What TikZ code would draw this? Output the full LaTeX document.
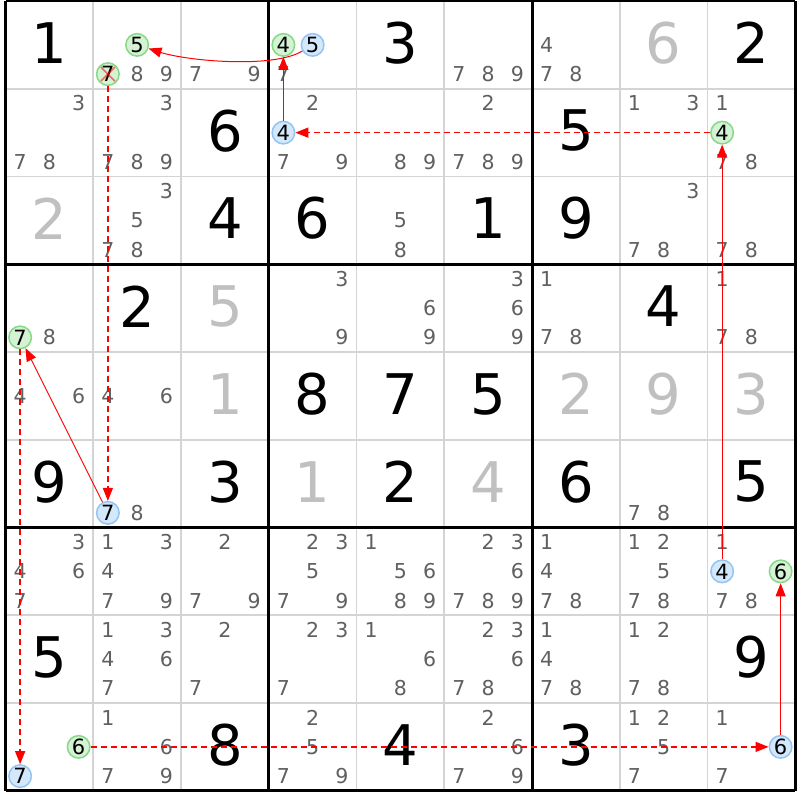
\documentclass[tikz,border=0pt]{standalone}
\usepackage{fontspec}
\setmainfont{DejaVu Sans}
\usetikzlibrary{arrows.meta}
\definecolor{candgray}{HTML}{606060}
\definecolor{solvedgray}{HTML}{C0C0C0}
\definecolor{gridgray}{HTML}{D4D4D4}
\definecolor{gfill}{HTML}{D5F2D5}
\definecolor{gdraw}{HTML}{86D986}
\definecolor{bfill}{HTML}{D4E8FC}
\definecolor{bdraw}{HTML}{94C4F2}
\definecolor{arrowred}{HTML}{FF0000}
\tikzset{
  cand/.style={text=candgray, font=\fontsize{20.5}{20.5}\selectfont, inner sep=0pt},
  bigdigit/.style={text=black, font=\fontsize{56}{56}\selectfont, inner sep=0pt},
  solved/.style={bigdigit, text=solvedgray},
  circ/.style={circle, minimum size=22.5pt, inner sep=0pt, line width=1.5pt, text=black, font=\fontsize{21}{21}\selectfont},
  gcirc/.style={circ, draw=gdraw, fill=gfill},
  bcirc/.style={circ, draw=bdraw, fill=bfill},
  thingrid/.style={draw=gridgray, line width=1.6pt},
  thickgrid/.style={draw=black, line width=3pt},
  arr/.style={draw=arrowred, line width=1pt, -{Triangle[length=13pt,width=10pt]}},
  darr/.style={arr, line width=1.3pt, dash pattern=on 6pt off 4pt},
  xmark/.style={draw=red, opacity=0.55, line width=1.6pt}
}
\begin{document}
\begin{tikzpicture}[x=1pt,y=-1pt]
\useasboundingbox (0,0) rectangle (800,800);
\fill[white] (0,0) rectangle (800,800);
% thin grid lines
\foreach \i in {1,2,4,5,7,8}{
  \draw[thingrid] ({5.5+\i*87.75},1) -- ({5.5+\i*87.75},790.75);
  \draw[thingrid] (5.5,{1+\i*87.75}) -- (795.25,{1+\i*87.75});
}
% given digits
\foreach \r/\c/\d in {1/1/1,1/5/3,1/9/2,2/3/6,2/7/5,3/3/4,3/4/6,3/6/1,3/7/9,4/2/2,4/8/4,5/4/8,5/5/7,5/6/5,6/1/9,6/3/3,6/5/2,6/7/6,6/9/5,8/1/5,8/9/9,9/3/8,9/5/4,9/7/3}{
  \node[bigdigit] (v\r\c) at ({5.5+(\c-0.5)*87.75},{1+(\r-1)*87.75+42}) {\d};
}
% solved digits
\foreach \r/\c/\d in {1/8/6,3/1/2,4/3/5,5/3/1,5/7/2,5/8/9,5/9/3,6/4/1,6/6/4}{
  \node[solved] (v\r\c) at ({5.5+(\c-0.5)*87.75},{1+(\r-1)*87.75+42}) {\d};
}
% candidates
\foreach \r/\c/\ds in {1/2/{8,9},1/3/{7,9},1/4/{7},1/6/{7,8,9},1/7/{4,7,8},
  2/1/{3,7,8},2/2/{3,7,8,9},2/4/{2,7,9},2/5/{8,9},2/6/{2,7,8,9},2/8/{1,3},2/9/{1,7,8},
  3/2/{3,5,7,8},3/5/{5,8},3/8/{3,7,8},3/9/{7,8},
  4/1/{8},4/4/{3,9},4/5/{6,9},4/6/{3,6,9},4/7/{1,7,8},4/9/{1,7,8},
  5/1/{4,6},5/2/{4,6},6/2/{8},6/8/{7,8},
  7/1/{3,4,6,7},7/2/{1,3,4,7,9},7/3/{2,7,9},7/4/{2,3,5,7,9},7/5/{1,5,6,8,9},7/6/{2,3,6,7,8,9},7/7/{1,4,7,8},7/8/{1,2,5,7,8},7/9/{1,7,8},
  8/2/{1,3,4,6,7},8/3/{2,7},8/4/{2,3,7},8/5/{1,6,8},8/6/{2,3,6,7,8},8/7/{1,4,7,8},8/8/{1,2,7,8},
  9/2/{1,6,7,9},9/4/{2,5,7,9},9/6/{2,6,7,9},9/8/{1,2,5,7},9/9/{1,7}}{
  \foreach \d in \ds {
    \pgfmathsetmacro\px{5.5+(\c-1)*87.75+(mod(\d-1,3)+0.5)*29.25}
    \pgfmathsetmacro\py{1+(\r-1)*87.75+(floor((\d-1)/3)+0.5)*29.25}
    \node[cand] (c\r\c\d) at (\px,\py) {\d};
  }
}
% thick grid lines
\foreach \i in {0,3,6,9}{
  \draw[thickgrid] ({5.5+\i*87.75},1) -- ({5.5+\i*87.75},790.75);
  \draw[thickgrid] (5.5,{1+\i*87.75}) -- (795.25,{1+\i*87.75});
}
% highlighted candidates
\foreach \kind/\r/\c/\d in {g/1/2/5,x/1/2/7,g/1/4/4,b/1/4/5,b/2/4/4,g/2/9/4,g/4/1/7,b/6/2/7,b/7/9/4,g/7/9/6,g/9/1/6,b/9/1/7,b/9/9/6}{
  \pgfmathsetmacro\px{5.5+(\c-1)*87.75+(mod(\d-1,3)+0.5)*29.25}
  \pgfmathsetmacro\py{1+(\r-1)*87.75+(floor((\d-1)/3)+0.5)*29.25}
  \if\kind b
    \node[bcirc] (\kind\r\c\d) at (\px,\py) {\d};
  \else
    \node[gcirc] (\kind\r\c\d) at (\px,\py) {\d};
  \fi
}
% eliminated mark
\draw[xmark] ([shift={(-7,-7)}]x127.center) -- ([shift={(7,7)}]x127.center);
\draw[xmark] ([shift={(7,-7)}]x127.center) -- ([shift={(-7,7)}]x127.center);
% chain arrows
\draw[arr] (b145) .. controls +(-40,24) and +(50,16) .. (g125);
\draw[arr] (b244) -- (g144);
\draw[darr] (g294) -- (b244);
\draw[arr] (b794) -- (g294);
\draw[darr] (x127) -- (b627);
\draw[arr] (b627) -- (g417);
\draw[darr] (g417) -- (b917);
\draw[darr] (g916) -- (b996);
\draw[arr] (b996) -- (g796);
\end{tikzpicture}
\end{document}
